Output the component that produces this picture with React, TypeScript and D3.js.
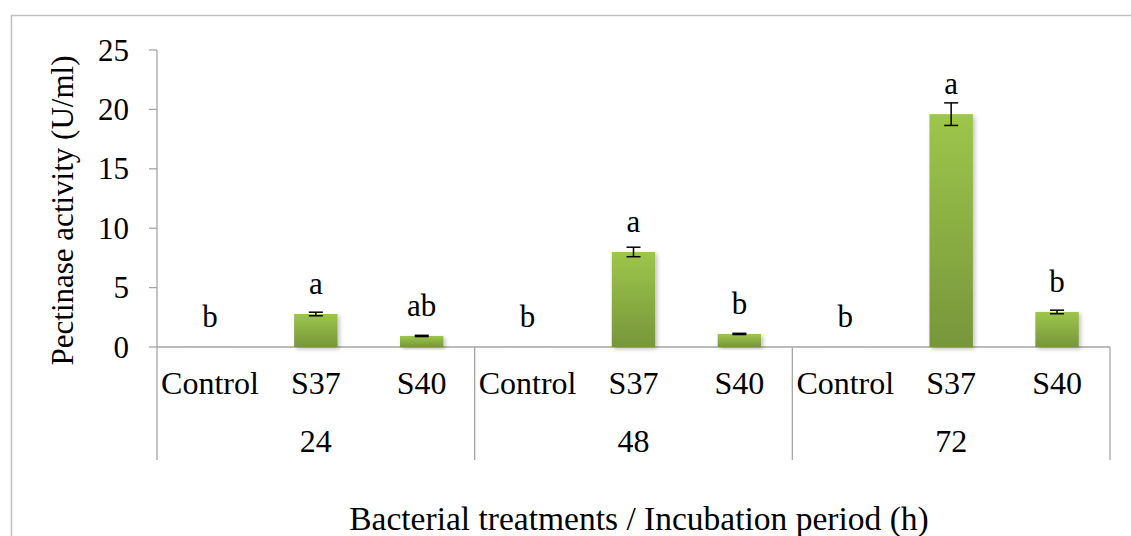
import React from 'react';
import * as d3 from 'd3';

const treatments = ['Control', 'S37', 'S40'];
const periods = ['24', '48', '72'];
// activity per period, in treatment order
const activity = [
  [0.01, 2.78, 0.93],
  [0.01, 8.0, 1.1],
  [0.01, 19.6, 2.95],
];
const errors = [
  [0, 0.15, 0.05],
  [0, 0.4, 0.05],
  [0, 0.95, 0.15],
];
const letters = [
  ['b', 'a', 'ab'],
  ['b', 'a', 'b'],
  ['b', 'a', 'b'],
];
const yTicks = [0, 5, 10, 15, 20, 25];

const W = 1131;
const H = 536;
const txt: React.CSSProperties = { fontFamily: 'Liberation Serif', fontSize: 31, fill: '#000' };
const catTxt: React.CSSProperties = { ...txt, fontSize: 32 };
const titleTxt: React.CSSProperties = { ...txt, fontSize: 33.5 };
const axisColor = '#a6a6a6';

const App: React.FC = () => {
  const left = 157, right = 1110, top = 50, bottom = 347, divBottom = 460;

  const cats = periods.flatMap(p => treatments.map(t => `${p}|${t}`));
  const x = d3.scaleBand<string>().domain(cats).range([left, right]).padding(0);
  const y = d3.scaleLinear().domain([0, 25]).range([bottom, top]);
  const barW = x.bandwidth() * 0.41;

  return (
    <svg
      width={W}
      height={H}
      style={{ position: 'absolute', left: 0, top: 0, background: '#fff' }}
    >
      <defs>
        <linearGradient id="barGrad" x1="0" y1="0" x2="0" y2="1">
          <stop offset="0%" stopColor="#9dc64a" />
          <stop offset="100%" stopColor="#77963b" />
        </linearGradient>
        <filter id="shadow" x="-30%" y="-10%" width="160%" height="130%">
          <feDropShadow dx={2} dy={2} stdDeviation={2} floodColor="#000" floodOpacity={0.25} />
        </filter>
      </defs>

      {/* outer chart border, runs off the right/bottom edges */}
      <rect x={11.5} y={15.5} width={W + 20} height={H + 20} fill="none" stroke="#bfbfbf" strokeWidth={1.5} />

      {/* y axis */}
      <line x1={left} x2={left} y1={y(25)} y2={y(0)} stroke={axisColor} strokeWidth={1.3} />
      {yTicks.map(t => (
        <g key={t}>
          <line x1={left - 8} x2={left} y1={y(t)} y2={y(t)} stroke={axisColor} strokeWidth={1.3} />
          <text x={left - 28} y={y(t)} dy="0.34em" textAnchor="end" style={txt}>{t}</text>
        </g>
      ))}

      {/* x axis + group dividers */}
      <line x1={left} x2={right} y1={bottom} y2={bottom} stroke={axisColor} strokeWidth={1.3} />
      {periods.map((p, i) => {
        const gx = x(`${p}|${treatments[0]}`)!;
        const gEnd = x(`${p}|${treatments[treatments.length - 1]}`)! + x.bandwidth();
        return (
          <g key={p}>
            <line x1={gx} x2={gx} y1={bottom} y2={divBottom} stroke={axisColor} strokeWidth={1.3} />
            {i === periods.length - 1 && (
              <line x1={gEnd} x2={gEnd} y1={bottom} y2={divBottom} stroke={axisColor} strokeWidth={1.3} />
            )}
            <text x={(gx + gEnd) / 2} y={452} textAnchor="middle" style={catTxt}>{p}</text>
          </g>
        );
      })}

      {/* bars, error bars, letters, category labels */}
      {periods.map((p, i) =>
        treatments.map((t, j) => {
          const cx = x(`${p}|${t}`)! + x.bandwidth() / 2;
          const v = activity[i][j];
          const e = errors[i][j];
          return (
            <g key={`${p}-${t}`}>
              <rect
                x={cx - barW / 2}
                y={y(v)}
                width={barW}
                height={y(0) - y(v)}
                fill={v < 0.1 ? axisColor : 'url(#barGrad)'}
                filter="url(#shadow)"
              />
              {e > 0 && (
                <g stroke="#000" strokeWidth={1.5}>
                  <line x1={cx} x2={cx} y1={y(v + e)} y2={y(v - e)} />
                  <line x1={cx - 7} x2={cx + 7} y1={y(v + e)} y2={y(v + e)} />
                  <line x1={cx - 7} x2={cx + 7} y1={y(v - e)} y2={y(v - e)} />
                </g>
              )}
              <text x={cx} y={y(v) - 20} textAnchor="middle" style={txt}>{letters[i][j]}</text>
              <text x={cx} y={394} textAnchor="middle" style={catTxt}>{t}</text>
            </g>
          );
        })
      )}

      {/* axis titles */}
      <text transform={`translate(73,${(43 + 378) / 2}) rotate(-90)`} textAnchor="middle" style={txt}>
        Pectinase activity (U/ml)
      </text>
      <text x={639} y={530} textAnchor="middle" style={titleTxt}>
        Bacterial treatments / Incubation period (h)
      </text>
    </svg>
  );
};

export default App;
